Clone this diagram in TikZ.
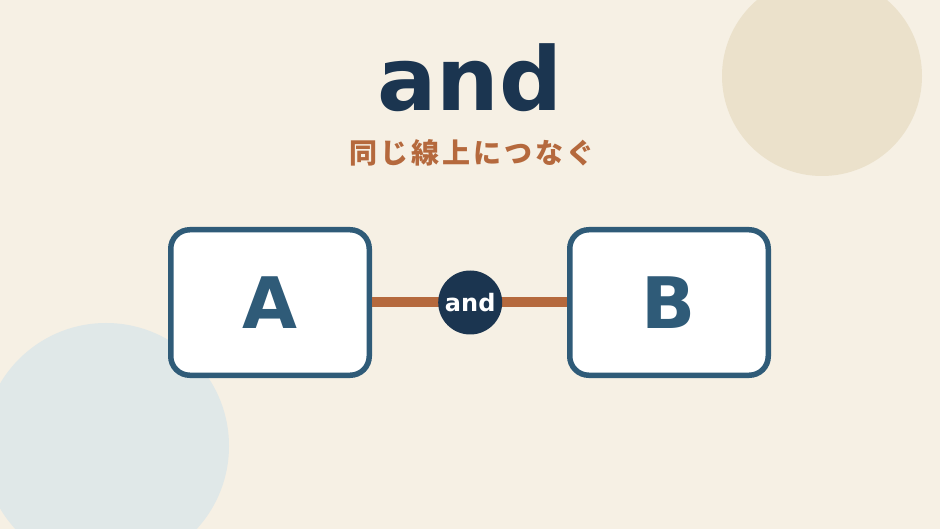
\documentclass[tikz,border=0pt]{standalone}
\usepackage{fontspec}
\setmainfont{DejaVu Sans}
\newfontfamily\jpfont[LetterSpace=11]{Noto Sans CJK JP}
\usetikzlibrary{positioning}

\definecolor{cream}{HTML}{F6F0E4}
\definecolor{sand}{HTML}{EBE1CB}
\definecolor{mist}{HTML}{E0E8E8}
\definecolor{boxblue}{HTML}{2F5B78}
\definecolor{navy}{HTML}{1B3550}
\definecolor{rust}{HTML}{B5693D}

\tikzset{
  box/.style={draw=boxblue,line width=5.5pt,fill=white,rounded corners=19pt,
    minimum width=198.5pt,minimum height=145.5pt,text=boxblue,
    font=\bfseries\fontsize{71}{80}\selectfont},
  joint/.style={circle,fill=navy,minimum size=64pt,inner sep=0pt,text=white,
    font=\bfseries\fontsize{24}{28}\selectfont},
  bar/.style={draw=rust,line width=10pt}
}

\begin{document}
\begin{tikzpicture}[x=1pt,y=-1pt]
      \useasboundingbox (0,0) rectangle (940,529);
      \fill [cream] (0,0) rectangle (940,529);

      \fill [sand] (822,76) circle [radius=100pt];
      \fill [mist] (106,446) circle [radius=123pt];

      \node [text=navy,anchor=base,font=\bfseries\fontsize{88}{96}\selectfont] (title) at (470,111) {and};
      \node [text=rust,font=\jpfont\bfseries\fontsize{28}{32}\selectfont] (subtitle) at (472,153) {同じ線上につなぐ};

      \node [box] (A) at (270,302.5) {A};
      \node [box,right=195pt of A] (B) {B};

      \draw [bar] (A.east) -- (B.west);
      \node [joint,right=66pt of A] (and) {and};

    \end{tikzpicture}
\end{document}
